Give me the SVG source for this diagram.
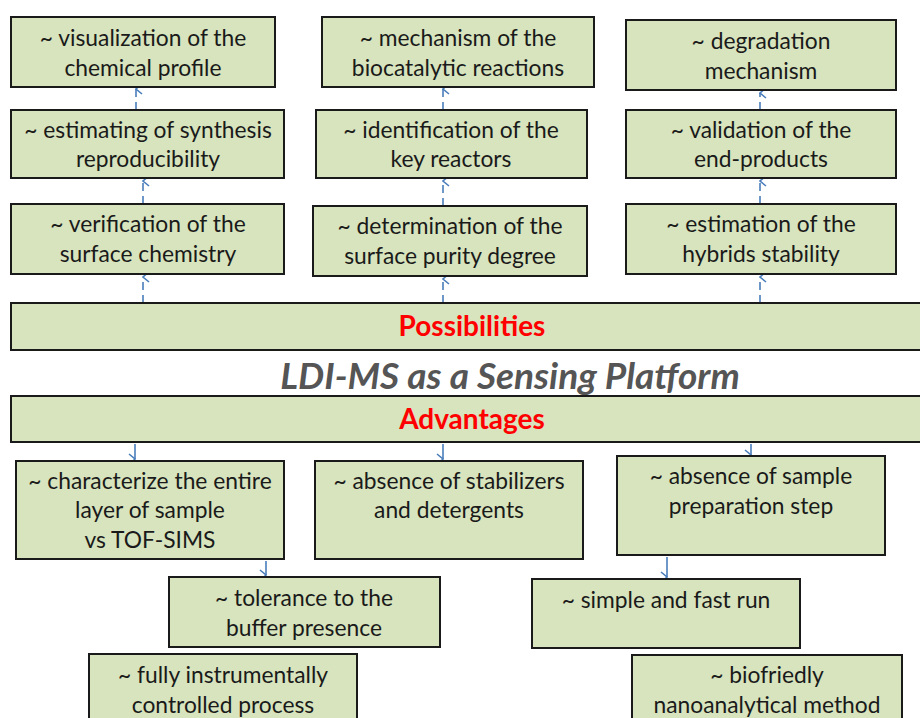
<svg xmlns="http://www.w3.org/2000/svg" width="920" height="718" viewBox="0 0 920 718">
<defs>
<style>
.box{fill:#d7e4bd;stroke:#1a1a1a;stroke-width:2}
.t{font-family:Lato,"Open Sans",sans-serif;font-size:22.8px;fill:#1a1a1a;text-anchor:middle}
.hd{font-family:Lato,"Open Sans",sans-serif;font-size:28px;font-weight:bold;fill:#ff0000;text-anchor:middle}
.title{font-family:Lato,"Open Sans",sans-serif;font-size:37px;font-weight:bold;font-style:italic;fill:#555555;text-anchor:middle}
.c{stroke:#4a7ebb;stroke-width:1.6;fill:none;stroke-dasharray:8 5}
.ah{stroke:#4a7ebb;stroke-width:1.6;fill:none}
</style>
<marker id="up" markerWidth="12" markerHeight="10" refX="6" refY="1" orient="auto-start-reverse" markerUnits="userSpaceOnUse" viewBox="0 0 12 10">
<path d="M1,7 L6,1 L11,7" stroke="#4a7ebb" stroke-width="1.6" fill="none"/>
</marker>
</defs>
<rect width="920" height="718" fill="#ffffff"/>

<g id="connectors">
<line class="c" x1="143" y1="303" x2="143" y2="277" marker-end="url(#up)"/>
<line class="c" x1="143" y1="204" x2="143" y2="181" marker-end="url(#up)"/>
<line class="c" x1="136" y1="110" x2="136" y2="89" marker-end="url(#up)"/>
<line class="c" x1="443" y1="303" x2="443" y2="279" marker-end="url(#up)"/>
<line class="c" x1="443" y1="206" x2="443" y2="181" marker-end="url(#up)"/>
<line class="c" x1="443" y1="110" x2="443" y2="89" marker-end="url(#up)"/>
<line class="c" x1="760" y1="303" x2="760" y2="277" marker-end="url(#up)"/>
<line class="c" x1="760" y1="204" x2="760" y2="181" marker-end="url(#up)"/>
<line class="c" x1="760" y1="110" x2="760" y2="93" marker-end="url(#up)"/>
<line class="ah" x1="135" y1="444" x2="135" y2="459" marker-end="url(#up)"/>
<line class="ah" x1="443" y1="444" x2="443" y2="459" marker-end="url(#up)"/>
<line class="ah" x1="751" y1="444" x2="751" y2="455" marker-end="url(#up)"/>
<line class="ah" x1="266" y1="561" x2="266" y2="575" marker-end="url(#up)"/>
<line class="ah" x1="667" y1="557" x2="667" y2="577" marker-end="url(#up)"/>
</g>

<g id="possibilities">
<rect class="box" x="11" y="303" width="915" height="47"/>
<text class="hd" x="472" y="336">Possibilities</text>
</g>
<g id="title">
<text class="title" x="510" y="389">LDI-MS as a Sensing Platform</text>
</g>
<g id="advantages">
<rect class="box" x="11" y="396" width="915" height="46"/>
<text class="hd" x="472" y="429">Advantages</text>
</g>

<g id="n-visualization">
<rect class="box" x="11" y="17" width="264" height="70"/>
<text class="t" x="143" y="46">~ visualization of the</text>
<text class="t" x="143" y="76">chemical profile</text>
</g>
<g id="n-estimating">
<rect class="box" x="11" y="110" width="273" height="68"/>
<text class="t" x="148" y="138">~ estimating of synthesis</text>
<text class="t" x="148" y="167">reproducibility</text>
</g>
<g id="n-verification">
<rect class="box" x="11" y="204" width="273" height="70"/>
<text class="t" x="148" y="232">~ verification of the</text>
<text class="t" x="148" y="262">surface chemistry</text>
</g>

<g id="n-mechanism">
<rect class="box" x="322" y="17" width="272" height="70"/>
<text class="t" x="458" y="46">~ mechanism of the</text>
<text class="t" x="458" y="76">biocatalytic reactions</text>
</g>
<g id="n-identification">
<rect class="box" x="316" y="110" width="271" height="68"/>
<text class="t" x="451" y="138">~ identification of the</text>
<text class="t" x="451" y="167">key reactors</text>
</g>
<g id="n-determination">
<rect class="box" x="313" y="206" width="274" height="70"/>
<text class="t" x="450" y="234">~ determination of the</text>
<text class="t" x="450" y="264">surface purity degree</text>
</g>

<g id="n-degradation">
<rect class="box" x="626" y="20" width="270" height="70"/>
<text class="t" x="761" y="49">~ degradation</text>
<text class="t" x="761" y="79">mechanism</text>
</g>
<g id="n-validation">
<rect class="box" x="626" y="110" width="270" height="68"/>
<text class="t" x="761" y="138">~ validation of the</text>
<text class="t" x="761" y="167">end-products</text>
</g>
<g id="n-estimation">
<rect class="box" x="626" y="204" width="270" height="70"/>
<text class="t" x="761" y="232">~ estimation of the</text>
<text class="t" x="761" y="262">hybrids stability</text>
</g>

<g id="n-characterize">
<rect class="box" x="16" y="461" width="268" height="98"/>
<text class="t" x="150" y="489">~ characterize the entire</text>
<text class="t" x="150" y="518">layer of sample</text>
<text class="t" x="150" y="548">vs TOF-SIMS</text>
</g>
<g id="n-stabilizers">
<rect class="box" x="315" y="461" width="268" height="98"/>
<text class="t" x="449" y="489">~ absence of stabilizers</text>
<text class="t" x="449" y="518">and detergents</text>
</g>
<g id="n-sample">
<rect class="box" x="617" y="456" width="268" height="99"/>
<text class="t" x="751" y="484">~ absence of sample</text>
<text class="t" x="751" y="514">preparation step</text>
</g>
<g id="n-tolerance">
<rect class="box" x="169" y="577" width="271" height="70"/>
<text class="t" x="304" y="606">~ tolerance to the</text>
<text class="t" x="304" y="636">buffer presence</text>
</g>
<g id="n-simple">
<rect class="box" x="532" y="579" width="268" height="69"/>
<text class="t" x="666" y="608">~ simple and fast run</text>
</g>
<g id="n-fully">
<rect class="box" x="89" y="654" width="268" height="80"/>
<text class="t" x="223" y="683">~ fully instrumentally</text>
<text class="t" x="223" y="713">controlled process</text>
</g>
<g id="n-biofriedly">
<rect class="box" x="632" y="655" width="270" height="80"/>
<text class="t" x="767" y="683">~ biofriedly</text>
<text class="t" x="767" y="713">nanoanalytical method</text>
</g>
</svg>
